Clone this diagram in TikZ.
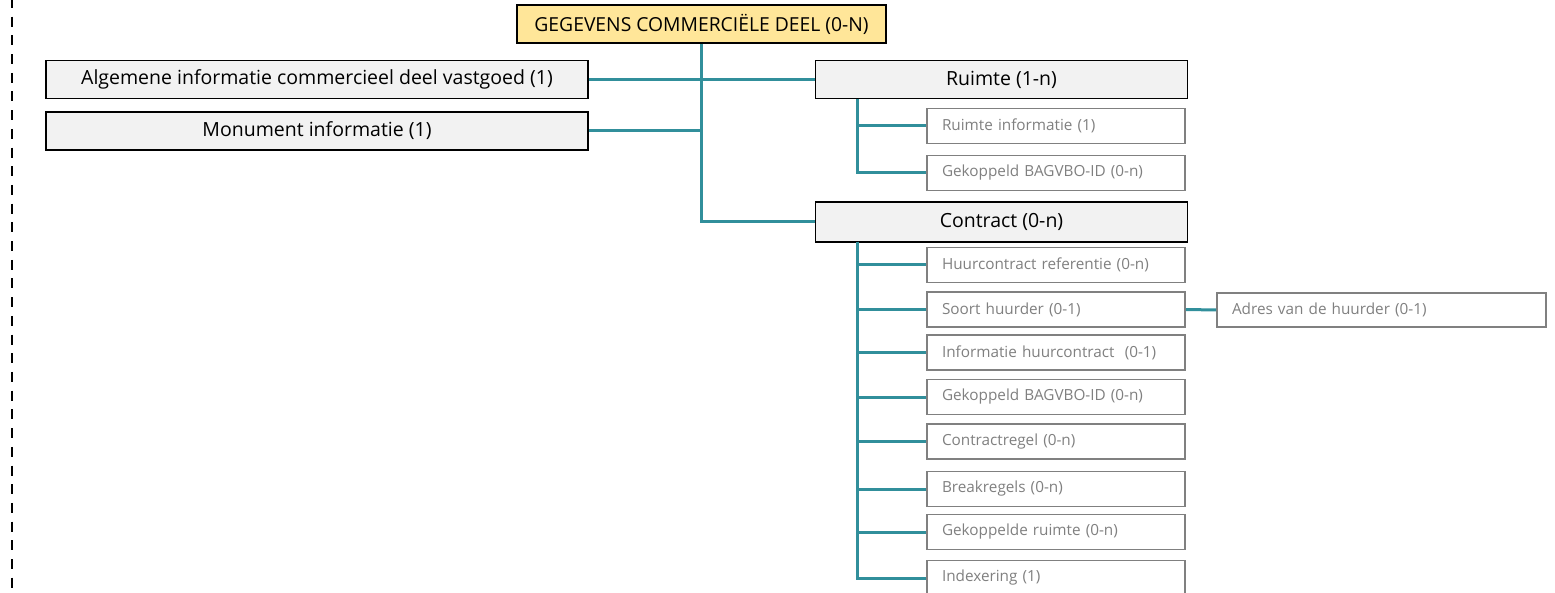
\documentclass[tikz,border=0pt]{standalone}
\usepackage{fontspec}
\setmainfont{Open Sans}
\definecolor{linkteal}{HTML}{318F9B}
\definecolor{headfill}{HTML}{FFE699}
\definecolor{mainfill}{HTML}{F2F2F2}
\definecolor{subgray}{HTML}{808080}
\begin{document}
\begin{tikzpicture}[x=1pt,y=-1pt,
  headbox/.style={draw=black,line width=1.6pt,fill=headfill,inner sep=0pt,
    font=\fontsize{19.3}{22}\selectfont},
  mainbox/.style={draw=black,line width=1.6pt,fill=mainfill,inner sep=0pt,
    font=\fontsize{19.5}{22}\selectfont},
  subbox/.style={draw=subgray,line width=1.6pt,fill=white,inner xsep=15pt,inner ysep=0pt,
    text=subgray,align=left,font=\fontsize{15.3}{18}\selectfont},
  link/.style={draw=linkteal,line width=3pt},
  guide/.style={draw=black,line width=2.2pt,dash pattern=on 10pt off 8.7pt,dash phase=2pt}]
\useasboundingbox (0,0) rectangle (1555,593);
\clip (0,0) rectangle (1555,593);

% margin guide on the left
\draw[guide] (12,0) -- (12,593);

% root
\node[headbox,minimum width=369pt,minimum height=38pt] (root) at (701.5,24) {GEGEVENS COMMERCIËLE DEEL (0-N)};

% first level
\node[mainbox,minimum width=542pt,minimum height=38pt] (alg) at (317,79.5) {Algemene informatie commercieel deel vastgoed (1)};
\node[mainbox,minimum width=542pt,minimum height=38pt] (mon) at (317,131) {Monument informatie (1)};
\node[mainbox,minimum width=372pt,minimum height=38pt] (ruimte) at (1001.5,79.5) {Ruimte (1-n)};
\node[mainbox,minimum width=372pt,minimum height=40pt] (contract) at (1001.5,222) {Contract (0-n)};

% children of Ruimte
\tikzset{subw/.style={text width=228pt,minimum height=35pt}}
\node[subbox,subw] (ri) at (1056,126) {Ruimte informatie (1)};
\node[subbox,subw] (rg) at (1056,173) {Gekoppeld BAGVBO-ID (0-n)};

% children of Contract
\node[subbox,subw] (c1) at (1056,265) {Huurcontract referentie (0-n)};
\node[subbox,subw] (c2) at (1056,309.5) {Soort huurder (0-1)};
\node[subbox,subw] (c3) at (1056,352.5) {Informatie huurcontract \ (0-1)};
\node[subbox,subw] (c4) at (1056,397) {Gekoppeld BAGVBO-ID (0-n)};
\node[subbox,subw] (c5) at (1056,441.5) {Contractregel (0-n)};
\node[subbox,subw] (c6) at (1056,489) {Breakregels (0-n)};
\node[subbox,subw] (c7) at (1056,532) {Gekoppelde ruimte (0-n)};
\node[subbox,subw] (c8) at (1056,578) {Indexering (1)};

\node[subbox,text width=299pt,minimum height=34pt] (adres) at (1381.5,310) {Adres van de huurder (0-1)};

% connectors
\coordinate (rt) at (857,99);
\coordinate (ct) at (857,242);
\draw[link] (root.south) |- (contract.west);
\draw[link] (alg.east) -- (ruimte.west);
\draw[link] (mon.east) -| (root.south);
\foreach \n in {ri,rg} \draw[link] (rt) |- (\n.west);
\foreach \n in {c1,c2,c3,c4,c5,c6,c7,c8} \draw[link] (ct) |- (\n.west);
\draw[link] (c2.east) -- (adres.west);
\end{tikzpicture}
\end{document}
